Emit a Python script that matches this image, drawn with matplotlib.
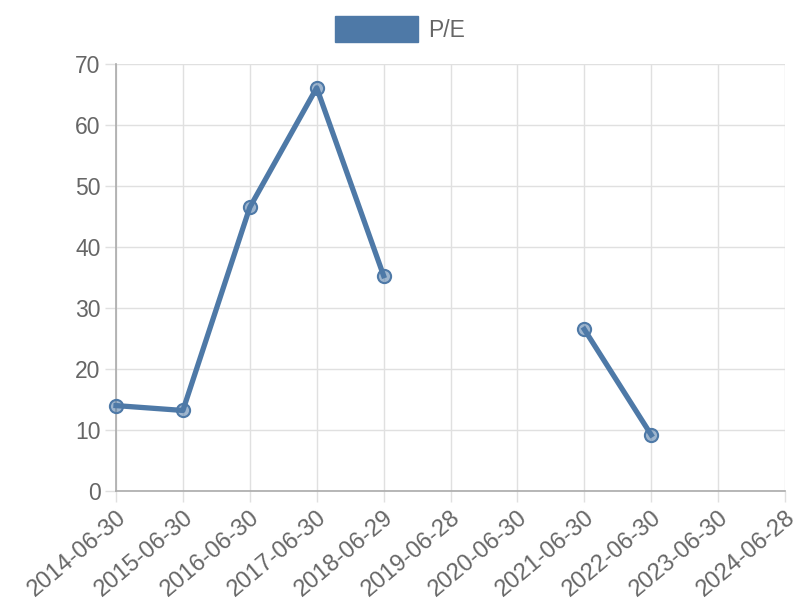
import matplotlib
matplotlib.use("Agg")
import matplotlib.pyplot as plt
import numpy as np
from matplotlib.patches import Patch

dates = ["2014-06-30", "2015-06-30", "2016-06-30", "2017-06-30", "2018-06-29",
         "2019-06-28", "2020-06-30", "2021-06-30", "2022-06-30", "2023-06-30",
         "2024-06-28"]
pe = [14.0, 13.2, 46.5, 66.1, 35.3, np.nan, np.nan, 26.5, 9.2, np.nan, np.nan]

LINE = "#4e79a7"
TEXT = "#666666"

plt.rcParams["font.family"] = ["Liberation Sans", "DejaVu Sans"]

fig = plt.figure(figsize=(8, 6), dpi=100)
ax = fig.add_axes([0.145, 0.1817, 0.83625, 0.7116])

x = np.arange(len(dates))
ax.plot(x, pe, color=LINE, linewidth=3.8, marker="o", markersize=9.5,
        markerfacecolor=(0.306, 0.475, 0.655, 0.55), markeredgecolor=LINE,
        markeredgewidth=1.5, zorder=3, clip_on=False)

ax.set_xlim(0, len(dates) - 1)
ax.set_ylim(0, 70)
ax.set_yticks(range(0, 71, 10))
ax.set_xticks(x)
ax.set_xticklabels(dates, rotation=40, ha="right", rotation_mode="anchor")

ax.grid(True, color="#e0e0e0", linewidth=1)
ax.set_axisbelow(True)
for side in ("top", "right"):
    ax.spines[side].set_visible(False)
for side in ("left", "bottom"):
    ax.spines[side].set_color("#aaaaaa")
    ax.spines[side].set_linewidth(1.2)
ax.tick_params(axis="both", colors="#e0e0e0", labelcolor=TEXT, labelsize=16.5,
               length=8, width=1)
ax.tick_params(axis="x", labelsize=17, pad=3)
ax.tick_params(axis="y", pad=3)

handle = Patch(facecolor=LINE, edgecolor=LINE)
fig.legend(handles=[handle], labels=["P/E"], loc="upper center",
           bbox_to_anchor=(0.5, 1.0), frameon=False, fontsize=16.5,
           handlelength=3.65, handleheight=1.35, handletextpad=0.45,
           labelcolor=TEXT, borderpad=0.2)

fig.savefig("out.png", dpi=100)
